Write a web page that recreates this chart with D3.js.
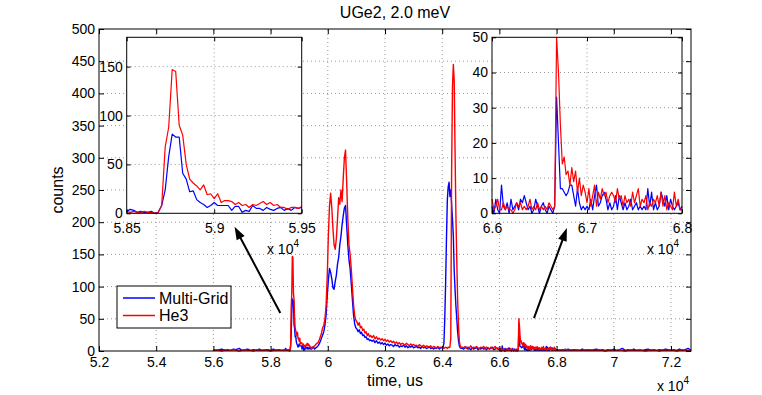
<!DOCTYPE html>
<html>
<head>
<meta charset="utf-8">
<script src="https://cdn.jsdelivr.net/npm/d3@7"></script>
<style>
body{margin:0;background:#fff;}
svg text{font-family:"Liberation Sans",Arial,Helvetica,sans-serif;font-size:14px;fill:#000;}
svg text.big{font-size:16px;}
</style>
</head>
<body>
<div id="chart"></div>
<script>
// time bins (us) for each stretch of the histogram, finer where the peaks are
var tBase  = d3.range(56000, 58401, 100);
var tPeak1 = d3.range(58500, 59501, 20);
var tMain  = d3.range(59540, 61501, 40);
var tTail  = d3.range(61550, 63951, 50);
var tPeak2 = d3.range(64000, 64661, 30);
var tFlat  = d3.range(64700, 65951, 50);
var tPeak3 = d3.range(66000, 68001, 20);
var tEnd   = d3.range(68100, 72701, 100);

// counts, Multi-Grid
var mgBase  = [2,1,2,3,1,2,1,3,2,4,1,2,3,1,2,1,3,1,2,2,1,3,1,2,1];
var mgPeak1 = [2,4,3,1,2,1,1,2,0,1, 8,24,58,81,78,78,41,35,22,23, 14,11,9,6,8,11,8,8,8,8,
               3,7,7,1,3,2,8,5,5,3, 6,4,3,5,6,3,5,3,6,5, 6];
var mgMain  = [3,5,6,8,11,15,20,25,30,40, 55,85,110,128,122,112,98,96,108,118,
               135,145,165,178,196,210,222,226,195,165, 142,128,105,80,56,42,36,34,30,33,
               27,29,24,25,21,22,18,19,16,17];
var mgTail  = [15,17,13,16,12,14,11,13,10,12, 9,11,8,10,9,7,10,8,9,6, 8,7,9,6,8,5,7,6,8,5,
               6,7,5,6,4,7,5,6,4,5, 6,4,5,3,5,4,6,3,5];
var mgPeak2 = [5,6,12,50,105,175,235,255,262,240, 250,228,205,178,125,95,70,50,30,16, 8,5,4];
var mgFlat  = [4,3,5,6,3,4,2,5,3,4,6,2,4,3,5,3,4,2,5,3,4,6,2,3,4,3];
var mgPeak3 = [2,0,4,1,0,8,2,1,3,0, 4,1,2,3,1,4,3,5,3,1, 2,0,1,4,2,0,2,3,1,0,
               2,1,0,2,33,20,7,7,6,5, 6,8,8,5,2,7,3,1,2,1, 2,1,4,1,5,8,2,3,5,6,
               4,1,3,1,2,5,1,5,3,1, 3,1,2,4,1,2,3,1,2,1, 2,1,7,2,6,1,3,1,2,6,
               4,2,5,1,4,2,1,2,3,1, 2];
var mgEnd   = [1,2,1,3,1,2,2,1,3,1, 2,1,2,3,1,2,1,2,1,3, 1,2,4,1,2,1,3,1,2,1,
               2,3,1,2,1,2,1,3,2,1, 2,1,3,1,2,4,1];

// counts, He3
var heBase  = [1,2,1,0,2,1,1,2,1,0,1,2,1,1,0,2,1,1,2,1,0,1,2,1,1];
var hePeak1 = [2,1,2,1,1,2,1,1,0,1, 8,68,88,147,145,90,80,50,35,31, 28,24,29,19,20,15,20,11,13,13,
               12,9,11,8,9,6,9,8,10,12, 9,11,8,9,6,6,4,6,6,5, 7];
var heMain  = [8,10,12,13,17,22,28,36,40,50, 70,115,180,225,245,222,190,165,158,175,
               205,238,228,250,232,268,300,312,262,205, 165,150,128,100,72,55,48,45,40,44,
               36,38,32,34,28,30,24,27,22,24];
var heTail  = [21,24,19,22,18,20,17,19,16,18, 15,17,14,16,13,15,12,14,11,13, 10,12,11,9,12,10,8,11,9,10,
               8,9,7,10,8,7,9,6,8,7, 6,8,5,7,6,5,7,5,6];
var hePeak2 = [5,6,4,5,6,5,4,6,5,6, 20,280,410,445,420,310,210,140,80,40, 15,8,6];
var heFlat  = [6,5,7,4,6,5,8,4,6,5,7,5,4,6,5,7,4,6,5,3,6,4,5,7,4,5];
var hePeak3 = [4,1,2,4,1,1,3,1,2,1, 1,0,1,3,2,3,1,2,1,2, 4,1,2,1,3,1,2,1,2,1,
               3,2,1,2,50,40,25,14,16,11, 12,8,13,9,12,6,10,5,8,6, 3,7,2,5,8,2,6,4,7,5,
               6,3,5,6,5,3,7,4,5,2, 5,3,4,2,6,3,5,7,2,4, 3,5,1,3,2,4,3,5,2,6,
               2,5,1,3,2,1,6,2,4,1, 1];
var heEnd   = [2,1,3,1,2,1,2,1,1,2, 1,2,1,1,2,1,0,1,2,1, 1,2,1,0,1,2,1,1,2,1,
               0,1,2,1,1,0,2,1,1,2, 1,0,1,2,1,1,2];

var mainXTicks = [52000,54000,56000,58000,60000,62000,64000,66000,68000,70000,72000];
var mainYTicks = [0,50,100,150,200,250,300,350,400,450,500];
var zoom1XTicks = [58500,59000,59500];
var zoom1YTicks = [0,50,100,150];
var zoom2XTicks = [66000,67000,68000];
var zoom2YTicks = [0,10,20,30,40,50];

var seriesNames = ['Multi-Grid','He3'];
var seriesColors = ['#0000ff','#ff0000'];

// arrows pointing from the small peaks to the zoomed panels, in data units
var arrows = [
  {from:[58340,59], to:[56740,193]},
  {from:[67210,51], to:[68360,191]}
];

var time = [].concat(tBase,tPeak1,tMain,tTail,tPeak2,tFlat,tPeak3,tEnd);
var multiGrid = [].concat(mgBase,mgPeak1,mgMain,mgTail,mgPeak2,mgFlat,mgPeak3,mgEnd);
var he3 = [].concat(heBase,hePeak1,heMain,heTail,hePeak2,heFlat,hePeak3,heEnd);
var series = [multiGrid, he3].map(function(vals){
  return vals.map(function(v,i){ return [time[i], v]; });
});

var svg = d3.select('#chart').append('svg')
            .attr('width',762)
            .attr('height',395);

var fmt = function(d){ return String(+(d/1e4).toFixed(2)); };

function grid(g, x, y, xTicks, yTicks){
  var xr = x.range(), yr = y.range();
  g.selectAll('line.gx')
   .data(xTicks.filter(function(d){ return x(d) > xr[0]+1 && x(d) < xr[1]-1; }))
   .enter().append('line')
   .attr('x1',function(d){return x(d);}).attr('x2',function(d){return x(d);})
   .attr('y1',yr[0]).attr('y2',yr[1])
   .attr('stroke','#999').attr('stroke-dasharray','1,3');
  g.selectAll('line.gy')
   .data(yTicks.filter(function(d){ return y(d) < yr[0]-1 && y(d) > yr[1]+1; }))
   .enter().append('line')
   .attr('y1',function(d){return y(d);}).attr('y2',function(d){return y(d);})
   .attr('x1',xr[0]).attr('x2',xr[1])
   .attr('stroke','#999').attr('stroke-dasharray','1,3');
}

function frame(g, x, y, xTicks, yTicks, len, pad){
  var xr = x.range(), yr = y.range();
  var noDomain = function(a){ a.select('.domain').remove(); };
  g.append('g').attr('transform','translate(0,'+yr[0]+')')
   .call(d3.axisBottom(x).tickValues(xTicks).tickSizeInner(-len).tickSizeOuter(0).tickPadding(pad).tickFormat(fmt))
   .call(noDomain);
  g.append('g').attr('transform','translate(0,'+yr[1]+')')
   .call(d3.axisTop(x).tickValues(xTicks).tickSizeInner(-len).tickSizeOuter(0).tickFormat(''))
   .call(noDomain);
  g.append('g').attr('transform','translate('+xr[0]+',0)')
   .call(d3.axisLeft(y).tickValues(yTicks).tickSizeInner(-len).tickSizeOuter(0).tickPadding(4))
   .call(noDomain);
  g.append('g').attr('transform','translate('+xr[1]+',0)')
   .call(d3.axisRight(y).tickValues(yTicks).tickSizeInner(-len).tickSizeOuter(0).tickFormat(''))
   .call(noDomain);
  g.append('rect')
   .attr('x',xr[0]).attr('y',yr[1])
   .attr('width',xr[1]-xr[0]).attr('height',yr[0]-yr[1])
   .attr('fill','none').attr('stroke','#000');
}

function exponent(g, xPos, yPos){
  var t = g.append('text').attr('x',xPos).attr('y',yPos).attr('text-anchor','end');
  t.append('tspan').text('x 10');
  t.append('tspan').attr('dy',-7).style('font-size','10px').text('4');
}

function drawLines(g, x, y, width){
  var line = d3.line().x(function(d){return x(d[0]);}).y(function(d){return y(d[1]);});
  var dom = x.domain();
  series.forEach(function(s,i){
    g.append('path')
     .datum(s.filter(function(d){ return d[0] >= dom[0] && d[0] <= dom[1]; }))
     .attr('d',line)
     .attr('fill','none')
     .attr('stroke',seriesColors[i])
     .attr('stroke-width',width)
     .attr('stroke-linejoin','round');
  });
}

// ---- main axes
var x = d3.scaleLinear().domain([52000,72700]).range([99,691]);
var y = d3.scaleLinear().domain([0,500]).range([351,29]);

var main = svg.append('g');
grid(main, x, y, mainXTicks, mainYTicks);
drawLines(main, x, y, 1.4);
frame(main, x, y, mainXTicks, mainYTicks, 5, 6);
exponent(main, 689, 391);

svg.append('text').attr('class','big').attr('x',395).attr('y',18).attr('text-anchor','middle').text('UGe2, 2.0 meV');
svg.append('text').attr('class','big').attr('x',395).attr('y',386).attr('text-anchor','middle').text('time, us');
svg.append('text').attr('class','big').attr('transform','translate(63,190) rotate(-90)').attr('text-anchor','middle').text('counts');

// legend
var legend = svg.append('g').attr('transform','translate(117,286)');
legend.append('rect').attr('width',114).attr('height',42).attr('fill','#fff').attr('stroke','#000');
seriesNames.forEach(function(name,i){
  legend.append('line').attr('x1',6).attr('x2',38).attr('y1',12+i*17.5).attr('y2',12+i*17.5)
        .attr('stroke',seriesColors[i]).attr('stroke-width',1.5);
  legend.append('text').attr('class','big').attr('x',42).attr('y',17.5+i*17.5).text(name);
});

// arrows
arrows.forEach(function(a){
  var x0 = x(a.from[0]), y0 = y(a.from[1]), x1 = x(a.to[0]), y1 = y(a.to[1]);
  var dx = x1-x0, dy = y1-y0, L = Math.sqrt(dx*dx+dy*dy), ux = dx/L, uy = dy/L;
  var head = 13, half = 4.5;
  var bx = x1-ux*head, by = y1-uy*head;
  svg.append('line').attr('x1',x0).attr('y1',y0).attr('x2',bx+ux*2).attr('y2',by+uy*2)
     .attr('stroke','#000').attr('stroke-width',2);
  svg.append('path')
     .attr('d','M'+x1+','+y1+'L'+(bx-uy*half)+','+(by+ux*half)+'L'+(bx+uy*half)+','+(by-ux*half)+'Z')
     .attr('fill','#000');
});

// ---- zoomed panels
function inset(xDom, xRange, yDom, xTicks, yTicks, expX){
  var xi = d3.scaleLinear().domain(xDom).range(xRange);
  var yi = d3.scaleLinear().domain(yDom).range([213.3,37.3]);
  var g = svg.append('g');
  g.append('rect').attr('x',xRange[0]).attr('y',37.3)
   .attr('width',xRange[1]-xRange[0]).attr('height',176).attr('fill','#fff');
  grid(g, xi, yi, xTicks, yTicks);
  drawLines(g, xi, yi, 1.2);
  frame(g, xi, yi, xTicks, yTicks, 4, 10);
  exponent(g, expX, 254);
}
inset([58500,59500], [126.7,301.7], [0,180], zoom1XTicks, zoom1YTicks, 299);
inset([66000,68000], [492,682], [0,50], zoom2XTicks, zoom2YTicks, 679);
</script>
</body>
</html>
